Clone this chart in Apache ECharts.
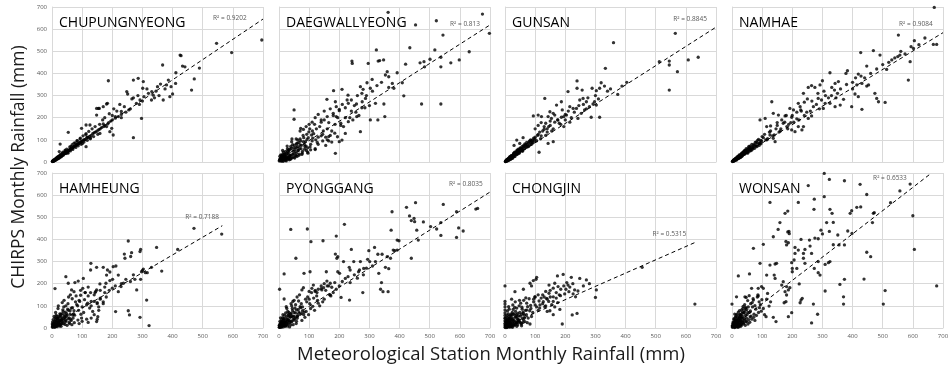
<!DOCTYPE html>
<html><head><meta charset="utf-8">
<script src="https://cdn.jsdelivr.net/npm/echarts@6/dist/echarts.min.js"></script>
<style>html,body{margin:0;padding:0;background:#fff}#c{width:952px;height:367px}</style>
</head><body><div id="c"></div>
<script>
// ---------- DATA ----------
const stations = ["CHUPUNGNYEONG","DAEGWALLYEONG","GUNSAN","NAMHAE","HAMHEUNG","PYONGGANG","CHONGJIN","WONSAN"];
const r2Values = ["0.9202","0.813","0.8845","0.9084","0.7188","0.8035","0.5315","0.6533"];
const trendSlope = [0.915,0.87,0.87,0.83,0.8,0.86,0.6,1.05];
const trendIntercept = [5,10,0,3,10,12,8,5];
const trendXMax = [700,700,700,700,565,700,634,660];
const axisTicks = [0,100,200,300,400,500,600,700];

const chupungnyeong = [[3,4],[12,11],[7,6],[22,20],[16,17],[30,27],[5,5],[41,38],[26,24],[9,9],[35,34],[18,15],[55,50],[13,13],[47,45],[28,30],[62,58],[20,18],[2,3],[70,66],[38,36],[14,12],[52,50],[32,28],[80,76],[24,23],[44,40],[8,8],[90,84],[58,55],[36,32],[100,95],[17,18],[66,60],[48,47],[11,10],[75,72],[40,41],[110,102],[27,25],[85,80],[54,50],[19,20],[120,110],[64,62],[33,31],[95,90],[6,7],[130,120],[45,44],[72,68],[23,22],[140,132],[78,74],[50,46],[105,100],[29,28],[150,140],[60,57],[15,14],[115,110],[88,82],[39,37],[160,150],[68,64],[25,26],[125,116],[98,92],[4,5],[175,165],[57,54],[135,128],[82,78],[42,39],[185,172],[108,100],[31,30],[145,136],[92,88],[21,21],[195,185],[74,71],[155,146],[46,43],[118,112],[10,11],[165,156],[86,83],[56,52],[200,190],[210,198],[220,205],[230,215],[245,225],[255,235],[172,160],[188,178],[63,70],[77,86],[93,104],[101,84],[84,95],[112,124],[128,108],[36,44],[44,54],[53,40],
[1,2],[2,5],[4,3],[5,8],[6,4],[8,10],[9,7],[10,13],[11,8],[13,16],[14,10],[15,18],[17,14],[19,23],[20,15],[21,25],[23,17],[26,31],[27,21],[29,34],[31,24],[34,40],[37,30],[43,50],[46,38],[49,58],[51,42],[59,68],[61,50],[67,78],[69,57],[73,85],[79,66],[83,96],[87,73],[94,108],[97,80],[103,118],[106,90],[113,128],[117,98],[122,138],[127,105],[133,150],[138,115],[143,160],[152,125],[158,170],
[696,551],[596,494],[546,536],[489,424],[472,375],[463,325],[441,430],[433,433],[425,483],[428,480],[411,403],[391,295],[400,307],[386,370],[380,348],[367,438],[369,280],[336,302],[331,318],[303,363],[301,333],[286,378],[270,370],[292,280],[297,197],[305,295],[270,110],[187,367],[248,318],[251,307],[203,122],[181,262],[154,242],[126,167],[113,167],[98,152],[148,212],[157,242],[170,250],[184,265],[148,242],[113,69],[159,129],[192,137],[198,152],[181,160],[170,172],[54,134],[27,81],[24,47],[350,340],[360,352],[320,310],[315,330],[280,265],[260,240],[240,250],[230,228],[225,260],[210,205],[265,285],[290,260],[300,275],[340,290],[355,300],[375,330],[395,340],[410,355],[330,280],[345,320],[285,300],[270,290],[230,200],[215,230],[200,210],[205,240],[190,218],[175,200],[168,190]];

const daegwallyeong = [[5,12],[22,8],[13,35],[40,31],[9,4],[31,55],[58,40],[18,22],[72,95],[26,15],[45,78],[3,26],[64,52],[35,30],[90,72],[15,44],[52,18],[80,120],[28,60],[110,95],[11,10],[47,50],[66,88],[38,12],[124,150],[20,36],[85,58],[57,104],[7,18],[99,136],[33,44],[76,34],[42,92],[140,118],[24,5],[61,70],[118,170],[16,28],[93,102],[50,65],[2,8],[130,112],[70,140],[36,24],[105,80],[29,48],[160,150],[55,30],[82,110],[12,52],[150,190],[44,20],[115,128],[68,60],[19,14],[135,160],[95,64],[39,70],[175,140],[62,100],[25,40],[145,125],[102,150],[48,38],[190,205],[78,48],[30,22],[165,178],[88,92],[14,3],[122,100],[58,82],[205,165],[37,58],[155,112],[108,122],[6,32],[180,210],[74,75],[21,26],[140,180],[96,40],[220,200],[53,56],[127,88],[43,104],[240,230],[84,80],[32,15],[170,120],[112,108],[60,25],[200,238],[27,72],[258,205],[147,140],[10,22],[275,245],[186,170],[92,125],[230,182],[66,30],[120,56],[165,95],[4,16],[17,9],[8,27],[23,18],[34,10],[1,5],
[3,12],[6,5],[8,16],[10,30],[12,8],[14,24],[16,12],[18,35],[20,18],[22,48],[25,26],[27,12],[29,38],[32,20],[34,55],[37,30],[40,16],[42,62],[46,34],[49,22],[51,76],[54,46],[57,28],[60,85],[63,52],[67,36],[70,104],[73,60],[77,40],[81,92],[86,70],[91,52],[97,110],[103,68],[111,140],
[675,668],[698,581],[522,638],[453,619],[362,676],[544,573],[631,498],[598,461],[570,448],[537,473],[537,430],[517,506],[501,464],[481,453],[483,430],[468,448],[434,516],[420,442],[392,403],[409,358],[359,408],[353,393],[364,385],[376,355],[381,333],[364,337],[323,506],[329,456],[334,458],[347,461],[296,445],[309,373],[292,358],[303,333],[270,340],[279,328],[242,456],[243,445],[209,328],[181,322],[159,283],[187,272],[229,302],[226,280],[257,262],[276,272],[287,287],[320,265],[348,262],[414,299],[473,262],[537,262],[303,190],[328,190],[351,205],[270,137],[50,235],[50,193],[187,39],[200,92],[81,147],[72,152],[70,77],[57,65],[214,160],[220,129],[209,99],[194,114],[120,200],[130,215],[140,190],[150,230],[160,205],[170,240],[180,220],[190,250],[200,232],[210,260],[220,245],[230,265],[240,280],[250,255],[260,300],[275,310],[290,300],[310,320],[325,345],[340,360],[255,225],[265,210],[285,245],[300,255],[235,200],[245,190],[205,175],[195,200],[110,180],[100,170],[90,160],[120,60],[130,80],[145,95],[160,100],[175,90],[155,75],[185,130],[165,115],[105,55],[95,45]];

const gunsan = [[3,5],[12,15],[7,4],[22,20],[16,24],[30,28],[5,10],[41,50],[26,19],[9,13],[35,45],[18,14],[55,60],[13,8],[47,39],[28,37],[62,75],[20,26],[2,2],[70,66],[38,33],[14,20],[52,64],[32,44],[80,92],[24,16],[44,58],[8,6],[90,86],[58,48],[36,40],[100,112],[17,22],[66,82],[48,46],[11,9],[75,72],[40,54],[110,125],[27,31],[85,100],[54,52],[19,12],[120,118],[64,70],[33,25],[95,108],[6,8],[130,148],[45,48],[72,88],[23,28],[140,135],[78,70],[50,62],[105,96],[29,40],[150,165],[60,55],[15,17],[115,135],[88,80],[39,48],[160,150],[68,78],[25,24],[125,140],[98,95],[4,7],[175,190],[57,70],[135,120],[82,95],[42,36],[185,170],[108,120],[31,35],[145,160],[92,100],[21,29],[195,205],[74,80],[155,140],[46,54],[118,105],[10,14],[165,180],[86,90],[56,58],[200,190],
[1,2],[3,3],[4,6],[5,5],[6,10],[8,9],[9,7],[10,12],[11,14],[13,11],[15,18],[17,16],[19,22],[21,18],[23,27],[26,25],[28,32],[30,24],[34,38],[37,35],[40,44],[43,40],[46,52],[49,45],[53,58],[57,52],[61,68],[65,60],[69,76],[73,68],[78,85],[83,78],[88,96],[93,88],[99,104],
[565,581],[360,539],[641,473],[608,461],[572,408],[545,456],[545,438],[545,325],[512,453],[404,360],[388,343],[374,305],[333,423],[319,358],[330,343],[314,333],[289,333],[303,322],[239,366],[239,333],[256,325],[259,287],[248,280],[270,272],[209,318],[132,287],[297,272],[303,257],[292,262],[314,202],[286,202],[187,272],[215,250],[226,242],[204,212],[187,202],[149,227],[160,220],[165,212],[143,205],[154,197],[94,208],[110,212],[121,205],[171,257],[190,235],[242,197],[237,242],[160,92],[143,84],[113,44],[253,220],[264,235],[39,99],[49,84],[30,75],[60,110],[100,150],[110,165],[120,178],[175,190],[180,175],[200,215],[210,230],[220,200],[230,225],[245,255],[260,260],[275,290],[280,250],[300,300],[310,285],[340,320],[350,330],[270,240],[195,160],[215,180],[130,160],[140,150],[150,185],[135,175]];

const namhae = [[4,6],[14,12],[8,11],[25,28],[18,14],[33,26],[6,3],[45,52],[29,22],[11,16],[38,44],[21,26],[58,48],[15,9],[50,42],[31,38],[66,80],[23,18],[2,4],[75,62],[41,35],[16,22],[56,70],[35,30],[85,98],[27,20],[47,60],[10,8],[96,82],[62,55],[39,48],[108,125],[19,24],[70,68],[52,40],[13,14],[80,90],[43,50],[118,105],[30,34],[90,75],[60,72],[22,16],[128,140],[68,58],[36,40],[100,115],[7,10],[140,122],[48,46],[77,88],[26,30],[150,165],[83,70],[54,64],[112,100],[32,28],[162,150],[64,52],[17,18],[124,135],[94,88],[42,52],[175,180],[72,78],[28,26],[135,118],[104,110],[5,8],[188,170],[60,66],[146,150],[88,102],[44,40],[200,210],[116,100],[34,42],[156,135],[98,95],[24,32],[215,195],[80,74],[170,175],[50,56],[126,122],[12,10],[182,160],[92,84],[58,60],[228,235],[240,210],[248,225],[205,180],[222,190],
[1,2],[3,4],[5,5],[6,8],[8,7],[9,10],[10,12],[12,10],[13,15],[15,14],[17,19],[19,16],[20,22],[22,20],[24,24],[26,22],[28,30],[30,26],[32,35],[35,32],[38,38],[41,36],[44,46],[47,42],[51,52],[54,48],[58,60],[62,58],[66,68],[70,64],[74,76],[79,72],[84,86],[89,82],[95,98],
[671,698],[552,573],[605,548],[594,521],[602,513],[668,531],[679,531],[574,488],[557,483],[550,476],[591,453],[585,370],[513,418],[530,461],[469,503],[491,483],[427,494],[447,433],[419,397],[428,388],[383,412],[378,400],[325,403],[353,363],[342,355],[331,337],[340,325],[300,367],[292,348],[275,337],[264,345],[253,337],[447,343],[453,348],[431,355],[414,348],[408,307],[419,295],[397,250],[431,238],[474,310],[486,272],[508,269],[480,287],[237,310],[370,283],[359,257],[342,250],[325,265],[286,287],[297,280],[309,265],[132,272],[220,265],[226,250],[204,235],[192,242],[137,220],[154,212],[176,208],[198,202],[264,208],[253,197],[303,242],[110,197],[93,190],[115,160],[128,163],[237,160],[232,145],[220,160],[137,107],[143,92],[198,145],[209,137],[260,230],[270,250],[280,260],[290,240],[310,300],[320,290],[350,310],[360,330],[380,350],[400,360],[410,380],[240,270],[250,285],[230,230],[215,225],[180,210],[165,190],[150,178],[160,140],[185,150],[195,178],[265,275],[285,310],[305,320],[330,300],[345,290],[400,330],[440,380],[460,400],[480,420],[500,440],[520,450],[540,470],[560,500],[620,530],[640,560]];

const hamheung = [[6,14],[19,42],[3,4],[33,20],[11,30],[48,66],[25,9],[14,58],[62,40],[8,22],[39,95],[22,18],[75,58],[2,27],[53,110],[31,50],[17,6],[88,80],[44,28],[10,46],[67,132],[28,35],[5,9],[96,62],[37,74],[58,20],[20,88],[115,105],[42,48],[13,15],[80,145],[26,64],[70,45],[50,12],[125,90],[35,28],[4,38],[92,120],[60,78],[16,33],[140,150],[46,100],[30,8],[105,70],[23,52],[74,24],[55,140],[9,3],[130,120],[40,60],[85,100],[18,24],[160,135],[64,34],[34,115],[110,160],[27,14],[52,85],[98,45],[12,70],[150,110],[78,118],[43,16],[120,145],[7,52],[68,92],[32,40],[175,160],[57,26],[90,125],[21,100],[135,75],[47,55],[15,10],[100,95],[36,82],[145,165],[72,64],[24,30],[180,140],[86,36],[40,125],[118,112],[61,150],[29,62],[155,95],[82,106],[1,18],[128,160],[54,42],[170,118],[95,148],[66,15],[108,128],[10,6],[24,20],[38,36],[4,16],[16,44],[45,38],
[1,4],[2,10],[3,14],[4,6],[5,20],[7,9],[8,30],[9,14],[11,18],[12,38],[13,8],[15,26],[16,52],[17,16],[19,30],[20,12],[21,45],[23,22],[25,36],[27,55],[29,18],[31,30],[33,64],[35,42],[38,20],[41,50],[44,72],[47,32],[50,58],[54,80],[57,46],[60,62],[64,90],[69,58],[73,78],
[563,424],[471,450],[347,364],[253,393],[294,355],[292,345],[240,334],[242,315],[261,323],[264,340],[417,355],[364,257],[330,274],[316,250],[303,266],[297,254],[294,220],[275,220],[281,172],[245,220],[237,202],[229,187],[220,164],[212,280],[203,277],[220,239],[201,220],[192,214],[184,262],[192,253],[170,274],[181,239],[129,292],[128,262],[148,274],[104,224],[87,212],[76,205],[46,232],[54,202],[10,178],[65,172],[73,164],[102,179],[211,74],[253,78],[257,59],[292,48],[322,11],[314,126],[148,29],[150,39],[152,51],[143,160],[148,172],[159,199],[179,202],[300,260],[310,250],[200,180],[190,170],[210,190],[230,200],[260,210],[270,240],[175,185],[160,170],[120,185],[110,160],[95,170],[130,100],[140,120],[150,115],[160,130],[170,110],[155,80],[140,60],[130,45],[115,40],[100,30],[90,20],[120,25]];

const pyonggang = [[4,9],[15,35],[2,3],[27,18],[9,26],[38,52],[21,7],[12,47],[50,36],[6,16],[33,70],[18,12],[60,44],[3,30],[44,88],[25,40],[14,5],[70,62],[36,24],[8,38],[55,105],[23,28],[47,15],[78,95],[30,56],[11,20],[90,75],[40,66],[19,58],[65,122],[52,42],[28,9],[100,130],[34,32],[7,22],[82,60],[45,78],[16,44],[112,98],[58,30],[26,88],[120,165],[39,14],[74,110],[10,10],[95,140],[48,54],[22,68],[130,112],[64,84],[31,36],[86,48],[5,46],[140,178],[55,68],[17,26],[105,88],[42,100],[76,34],[150,130],[29,75],[92,118],[13,60],[118,80],[68,150],[37,48],[160,190],[84,72],[20,14],[125,145],[57,20],[102,110],[46,120],[1,12],[135,100],[72,92],[32,62],[168,150],[88,130],[43,30],[145,118],[62,56],[108,160],[24,96],[155,170],[78,78],[35,5],[98,60],[128,125],[53,90],[172,145],[115,135],[6,4],[13,14],[20,24],[28,30],[3,18],
[1,3],[2,8],[3,12],[4,5],[5,18],[6,9],[7,28],[8,12],[9,4],[10,20],[11,32],[12,10],[14,24],[15,14],[16,40],[18,18],[20,32],[22,12],[24,50],[26,24],[29,40],[31,18],[33,54],[36,32],[39,62],[41,28],[44,52],[47,40],[50,70],[54,50],[58,82],[61,52],[66,72],[70,96],[75,66],
[453,566],[423,545],[545,558],[589,525],[659,540],[653,537],[375,525],[433,506],[448,495],[439,485],[450,480],[479,479],[537,476],[503,458],[523,447],[596,452],[611,438],[537,418],[589,409],[372,442],[457,442],[462,397],[398,394],[392,397],[217,468],[94,447],[39,445],[190,415],[106,390],[146,394],[56,315],[240,355],[298,349],[317,364],[342,333],[328,333],[379,352],[384,349],[392,352],[370,315],[359,322],[187,334],[195,322],[192,315],[439,315],[294,310],[301,300],[270,300],[248,300],[353,274],[364,268],[331,247],[340,205],[337,175],[345,164],[362,164],[281,269],[264,254],[267,262],[233,274],[236,262],[229,232],[214,300],[157,254],[195,254],[201,247],[220,224],[236,205],[17,244],[2,175],[83,247],[103,254],[159,212],[170,202],[175,184],[148,182],[142,172],[206,138],[234,126],[278,160],[114,194],[109,179],[126,160],[81,182],[76,172],[17,131],[250,240],[260,225],[280,240],[310,280],[320,300],[290,270],[200,190],[210,210],[180,160],[170,150],[190,175],[165,190],[185,205],[130,175],[140,190],[120,170],[100,165],[150,200],[60,140],[50,125],[40,110]];

const chongjin = [[0,4],[0,13],[0,21],[0,33],[0,44],[0,57],[0,68],[0,81],[0,95],[0,108],[0,120],[5,12],[18,40],[9,28],[33,15],[12,6],[46,55],[24,70],[61,38],[7,48],[39,90],[15,22],[71,60],[28,33],[52,112],[3,19],[82,78],[20,9],[44,26],[11,64],[57,85],[36,50],[26,104],[66,29],[8,36],[49,70],[95,118],[17,58],[30,12],[75,96],[41,40],[14,85],[62,125],[22,46],[88,52],[2,30],[54,18],[35,75],[105,95],[19,25],[47,100],[68,80],[10,16],[80,132],[31,62],[58,44],[25,3],[92,70],[39,8],[13,42],[72,112],[45,34],[6,58],[99,140],[27,84],[64,58],[16,34],[85,102],[50,25],[34,118],[110,80],[21,62],[56,94],[4,7],[77,45],[42,66],[29,20],[100,104],[12,96],[69,136],[37,28],[60,72],[23,14],[86,88],[48,125],[8,77],[113,122],[40,52],[1,45],[74,24],[32,93],[55,62],[19,5],[3,10],[10,24],[16,12],[25,36],[38,22],[6,2],
[1,2],[2,12],[3,26],[4,5],[5,34],[6,15],[7,22],[8,4],[9,40],[10,8],[11,30],[12,18],[13,52],[14,28],[15,4],[17,44],[18,16],[20,30],[21,55],[23,8],[24,22],[26,40],[27,62],[29,14],[31,32],[33,48],[36,22],[38,60],[42,14],[44,40],[48,30],[51,54],[55,10],[60,26],[65,46],
[630,108],[455,274],[303,172],[300,138],[270,217],[248,224],[220,229],[193,242],[174,235],[165,202],[146,194],[176,187],[105,229],[103,220],[94,214],[88,190],[83,202],[61,175],[33,164],[22,130],[0,190],[209,194],[202,175],[212,164],[231,172],[226,154],[234,141],[242,167],[198,154],[184,146],[182,84],[239,66],[223,59],[190,18],[160,141],[138,134],[146,157],[127,119],[116,104],[132,96],[149,78],[72,81],[61,66],[83,18],[55,21],[39,24],[125,150],[135,165],[150,170],[160,180],[170,160],[185,175],[195,190],[205,205],[215,185],[225,200],[260,190],[280,200],[140,130],[150,140],[160,120],[170,135],[180,150],[130,140],[120,135],[110,150],[100,140],[95,130],[115,90],[125,110],[135,100],[145,120],[155,105],[165,95],[175,115],[140,75],[160,60]];

const wonsan = [[4,9],[17,33],[9,2],[28,15],[41,70],[12,19],[6,41],[55,38],[23,6],[35,52],[14,11],[68,95],[3,22],[47,28],[26,61],[19,14],[81,57],[8,27],[38,19],[62,110],[31,44],[15,5],[49,83],[22,37],[73,62],[11,48],[44,12],[58,71],[27,24],[90,118],[5,13],[36,88],[18,47],[66,40],[40,35],[13,30],[97,76],[29,8],[52,124],[24,52],[7,4],[76,101],[33,66],[45,57],[16,21],[84,140],[10,36],[59,26],[37,98],[21,17],[104,88],[48,45],[2,10],[70,132],[30,29],[63,54],[25,78],[88,70],[42,105],[14,58],[115,130],[53,18],[32,14],[79,85],[20,3],[46,92],[9,63],[108,60],[57,146],[34,32],[94,105],[26,43],[61,77],[39,23],[72,48],[18,26],[123,99],[50,60],[6,18],[86,150],[43,80],[11,7],[67,115],[28,34],[99,128],[54,95],[1,4],[76,34],[35,73],[118,156],[24,12],[60,50],[47,138],[91,92],[30,56],[128,118],
[1,10],[2,4],[3,15],[4,28],[5,8],[6,22],[7,12],[8,40],[9,18],[10,6],[11,30],[12,12],[13,50],[14,24],[15,36],[16,14],[17,62],[18,8],[19,40],[20,26],[21,72],[22,18],[24,32],[25,48],[26,12],[28,60],[30,20],[32,82],[34,45],[36,25],[39,68],[42,40],[45,90],[48,30],[52,70],
[306,698],[323,671],[373,665],[425,649],[447,603],[557,619],[591,650],[253,643],[126,567],[220,567],[273,582],[306,593],[272,536],[325,536],[332,518],[414,545],[427,547],[397,530],[392,518],[472,521],[469,518],[526,566],[600,507],[466,476],[605,355],[447,342],[460,322],[679,190],[508,169],[502,108],[438,221],[373,220],[358,197],[370,141],[370,108],[309,167],[284,62],[270,108],[264,23],[325,300],[320,295],[309,287],[292,239],[286,250],[273,269],[286,300],[336,376],[355,375],[373,375],[351,420],[384,438],[398,427],[323,436],[336,477],[314,476],[300,425],[295,442],[286,403],[275,406],[257,397],[259,370],[242,355],[229,400],[264,337],[237,337],[209,364],[220,352],[209,337],[206,307],[237,315],[242,292],[215,269],[200,254],[198,295],[200,269],[181,375],[179,391],[187,385],[189,436],[190,426],[185,434],[176,518],[185,528],[159,476],[153,445],[137,412],[104,378],[71,360],[93,292],[126,284],[143,289],[148,292],[58,244],[21,235],[115,239],[140,239],[143,224],[170,209],[165,194],[181,187],[223,199],[192,182],[187,172],[233,134],[229,126],[226,114],[176,164],[181,149],[173,114],[179,119],[198,69],[187,51],[146,29],[113,51],[137,48],[65,179],[87,179],[98,187],[104,179],[87,144],[71,126],[43,141],[15,141],[0,108]];

const seriesData = [chupungnyeong, daegwallyeong, gunsan, namhae, hamheung, pyonggang, chongjin, wonsan];

// ---------- LAYOUT ----------
const L = {
  gridLeft: [52, 279, 505, 732], gridTop: [7, 173], gridW: 211, gridH: 155,
  r2Pos: [[590,650],[617,623],[614,646],[610,623],[498,501],[620,650],[545,425],[524,677]],
  font: '"Open Sans", "Noto Sans", sans-serif'
};

const grids = [], xAxes = [], yAxes = [], series = [], titles = [];
stations.forEach((name, i) => {
  const row = Math.floor(i / 4), col = i % 4;
  const left = L.gridLeft[col], top = L.gridTop[row];
  grids.push({ left: left, top: top, width: L.gridW, height: L.gridH, show: false });
  const axisCommon = {
    min: axisTicks[0], max: axisTicks[axisTicks.length - 1], interval: axisTicks[1] - axisTicks[0],
    gridIndex: i,
    axisLine: { show: true, lineStyle: { color: '#d9d9d9', width: 1 } },
    axisTick: { show: false },
    splitLine: { show: true, lineStyle: { color: '#d9d9d9', width: 1 } }
  };
  xAxes.push(Object.assign({}, axisCommon, {
    type: 'value',
    axisLabel: { show: row === 1, fontSize: 6, color: '#595959', margin: 5, fontFamily: L.font }
  }));
  yAxes.push(Object.assign({}, axisCommon, {
    type: 'value',
    axisLabel: { show: col === 0, fontSize: 6, color: '#595959', margin: 5, fontFamily: L.font }
  }));
  series.push({
    type: 'scatter', xAxisIndex: i, yAxisIndex: i,
    data: seriesData[i], symbol: 'circle', symbolSize: 3.3,
    itemStyle: { color: '#000' }, silent: true, z: 2
  });
  const b = trendIntercept[i], m = trendSlope[i], xm = trendXMax[i];
  series.push({
    type: 'line', xAxisIndex: i, yAxisIndex: i,
    data: [[0, b], [xm, b + m * xm]], symbol: 'none', silent: true, z: 3,
    lineStyle: { color: '#000', width: 1, type: [4, 3] },
    markPoint: {
      symbol: 'circle', symbolSize: 0, silent: true,
      label: { show: true, position: 'inside', formatter: 'R\u00B2 = ' + r2Values[i],
               fontSize: 6.5, color: '#595959', fontFamily: L.font },
      data: [{ coord: L.r2Pos[i] }]
    }
  });
  titles.push({
    text: name, left: left + 2, top: top + 4,
    textStyle: { fontSize: 14, fontWeight: 'normal', color: '#000', fontFamily: L.font }
  });
});

const chart = echarts.init(document.getElementById('c'), null, { renderer: 'canvas' });
chart.setOption({
  animation: false,
  backgroundColor: '#fff',
  title: titles,
  grid: grids, xAxis: xAxes, yAxis: yAxes, series: series,
  graphic: [
    { type: 'text', x: 19, y: 167, rotation: Math.PI / 2,
      style: { text: 'CHIRPS Monthly Rainfall (mm)', fill: '#1a1a1a', fontSize: 17.5,
               fontFamily: L.font, align: 'center', verticalAlign: 'middle',
               textAlign: 'center', textVerticalAlign: 'middle' } },
    { type: 'text', x: 491, y: 355,
      style: { text: 'Meteorological Station Monthly Rainfall (mm)', fill: '#1a1a1a', fontSize: 18.5,
               fontFamily: L.font, align: 'center', verticalAlign: 'middle',
               textAlign: 'center', textVerticalAlign: 'middle' } }
  ]
});
</script></body></html>
